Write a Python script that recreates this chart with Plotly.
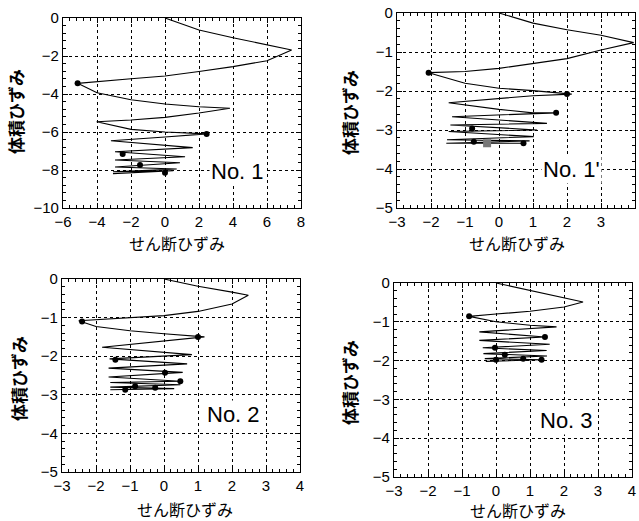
import plotly.graph_objects as go

# ---------------- data ----------------
# Panel No.1
p1_x = [0, 2, 4, 6, 7.45, 6, 4, 2, 0, -2, -4, -5.14, -4, -2, 0, 2, 3.82, 2, 0, -2, -4.02,
        -2, 0, 1.5, 2.45, 0, -3.18, 1.63, -2.94, 1.18, -2.94, 0.88, -2.94, 0.69, -3.06, 0.49, -3.06]
p1_y = [0, -0.63, -1.04, -1.39, -1.68, -2.25, -2.56, -2.82, -3.05, -3.2, -3.33, -3.44, -3.93, -4.3,
        -4.53, -4.67, -4.75, -5.0, -5.23, -5.37, -5.46, -5.86, -6.0, -6.05, -6.1, -6.26, -6.46,
        -6.82, -7.04, -7.3, -7.47, -7.62, -7.84, -7.95, -8.09, -8.04, -8.19]
p1_mx = [-5.14, 2.45, -2.49, -1.47, 0]
p1_my = [-3.44, -6.1, -7.16, -7.74, -8.14]

# Panel No.1'
p2_x = [0, 1, 2, 3, 3.96, 3, 2, 1, 0, -1, -2.07, -1, 0, 1, 2.14, 1, 0, -1.48, 0, 1, 1.68,
        -1.38, 1.41, -1.43, 1.12, -1.48, 1.02, -1.53, 0.9, -1.55, 0.72]
p2_y = [0, -0.26, -0.43, -0.57, -0.76, -0.95, -1.17, -1.29, -1.42, -1.5, -1.53, -1.8, -1.93,
        -1.99, -2.08, -2.12, -2.2, -2.3, -2.47, -2.56, -2.56, -2.66, -2.83, -2.87, -3.0, -3.04,
        -3.17, -3.25, -3.28, -3.34, -3.34]
p2_mx = [-2.07, 2.0, 1.68, -0.79, -0.74, 0.72]
p2_my = [-1.53, -2.08, -2.56, -2.96, -3.3, -3.34]
p2_gx = [-0.35]
p2_gy = [-3.34]

# Panel No.2
p3_x = [0, 1, 2, 2.48, 2, 1, 0, -1, -2, -2.51, -2, -1, 0, 1.19, -1.82, 0.82, -1.6, 0.68,
        -1.63, 0.55, -1.63, 0.48, -1.58, 0.48, -1.58, 0.3, -1.58]
p3_y = [0, -0.19, -0.34, -0.42, -0.65, -0.84, -0.95, -1.0, -1.05, -1.08, -1.23, -1.34, -1.42,
        -1.5, -1.77, -1.96, -2.07, -2.2, -2.31, -2.42, -2.54, -2.65, -2.68, -2.74, -2.8, -2.84,
        -2.87]
p3_mx = [-2.41, 1.0, -1.43, 0.03, 0.48, -0.85, -0.26, -1.14]
p3_my = [-1.1, -1.5, -2.09, -2.43, -2.65, -2.78, -2.82, -2.87]

# Panel No.3
p4_x = [0, 1, 2, 2.56, 2, 1, 0, -0.79, 0, 1, 1.78, -0.49, 1.44, -0.49, 1.58, -0.39, 1.49,
        -0.37, 1.5, -0.33, 1.34, -0.3]
p4_y = [0, -0.19, -0.38, -0.49, -0.62, -0.73, -0.8, -0.86, -1.0, -1.09, -1.13, -1.26, -1.39,
        -1.48, -1.58, -1.67, -1.74, -1.82, -1.88, -1.95, -1.98, -2.02]
p4_mx = [-0.79, 1.44, -0.03, 0.26, 0.8, 1.34, 0.0]
p4_my = [-0.86, -1.39, -1.67, -1.85, -1.95, -1.98, -1.98]

labels = ["No. 1", "No. 1'", "No. 2", "No. 3"]
label_x = [4.24, 2.14, 2.05, 2.08]
label_y = [-8.1, -4.02, -3.51, -3.54]

x_ranges = [[-6, 8], [-3, 4], [-3, 4], [-3, 4]]
y_ranges = [[-10, 0], [-5, 0], [-5, 0], [-5, 0]]
x_dticks = [2, 1, 1, 1]
y_dticks = [2, 1, 1, 1]

x_title = "せん断ひずみ"
y_title = "体積ひずみ"

# ---------------- figure ----------------
W, H = 639, 521
# plot areas in pixels: (left, right, top, bottom)
areas = [(63, 301, 18, 208), (397, 635, 13, 208), (62, 300, 279, 472), (394, 632, 283, 477)]
# axis-title centres in pixels
xt_pos = [(177, 243), (517, 243), (185, 509), (518, 510)]
yt_pos = [(16, 112), (349, 113), (18, 379), (349, 383)]

num_font = "Liberation Sans, Arial, sans-serif"
jp_font = "Noto Sans CJK JP, sans-serif"

fig = go.Figure()
series = [(p1_x, p1_y, p1_mx, p1_my), (p2_x, p2_y, p2_mx, p2_my),
          (p3_x, p3_y, p3_mx, p3_my), (p4_x, p4_y, p4_mx, p4_my)]

layout = dict(
    width=W, height=H, margin=dict(l=0, r=0, t=0, b=0, autoexpand=False),
    paper_bgcolor="white", plot_bgcolor="white", showlegend=False,
    annotations=[],
)

for i, (sx, sy, mx, my) in enumerate(series):
    n = "" if i == 0 else str(i + 1)
    xa, ya = "x" + n, "y" + n
    fig.add_trace(go.Scatter(x=sx, y=sy, mode="lines", xaxis=xa, yaxis=ya,
                             line=dict(color="black", width=1.1), hoverinfo="skip"))
    if i == 1:
        fig.add_trace(go.Scatter(x=p2_gx, y=p2_gy, mode="markers", xaxis=xa, yaxis=ya,
                                 marker=dict(color="#777777", size=8, symbol="square"),
                                 hoverinfo="skip"))
    fig.add_trace(go.Scatter(x=mx, y=my, mode="markers", xaxis=xa, yaxis=ya,
                             marker=dict(color="black", size=6), hoverinfo="skip"))
    l, r, t, b = areas[i]
    common = dict(
        showline=True, linecolor="black", linewidth=1.2, mirror="allticks",
        ticks="inside", ticklen=5, tickwidth=1, tickcolor="black",
        showgrid=True, gridcolor="black", griddash="dot", gridwidth=1,
        zeroline=False, automargin=False,
        tickfont=dict(family=num_font, size=15, color="black"),
    )
    layout["xaxis" + n] = dict(
        common, domain=[l / W, r / W], anchor=ya, range=x_ranges[i],
        dtick=x_dticks[i], tick0=0,
        minor=dict(ticks="inside", ticklen=3, dtick=x_dticks[i] / 5, tickcolor="black",
                   showgrid=False),
    )
    layout["yaxis" + n] = dict(
        common, domain=[1 - b / H, 1 - t / H], anchor=xa, range=y_ranges[i],
        dtick=y_dticks[i], tick0=0,
        minor=dict(ticks="inside", ticklen=3, dtick=y_dticks[i] / 5, tickcolor="black",
                   showgrid=False),
    )
    layout["annotations"].append(dict(
        x=label_x[i], y=label_y[i], xref=xa, yref=ya, text=labels[i], showarrow=False,
        font=dict(family=num_font, size=22, color="black"), bgcolor="white",
        xanchor="center", yanchor="middle",
    ))
    # axis titles
    layout["annotations"].append(dict(
        x=xt_pos[i][0] / W, y=1 - xt_pos[i][1] / H, xref="paper", yref="paper",
        text=x_title, showarrow=False, xanchor="center", yanchor="middle",
        font=dict(family=jp_font, size=16, color="black"),
    ))
    layout["annotations"].append(dict(
        x=yt_pos[i][0] / W, y=1 - yt_pos[i][1] / H, xref="paper", yref="paper",
        text="<b>" + y_title + "</b>", showarrow=False, xanchor="center", yanchor="middle",
        textangle=-90, font=dict(family=jp_font, size=17, color="black"),
    ))

fig.update_layout(**layout)
fig.write_html("out.html", config={"displayModeBar": False},
               post_script="document.body.style.margin='0px';")
